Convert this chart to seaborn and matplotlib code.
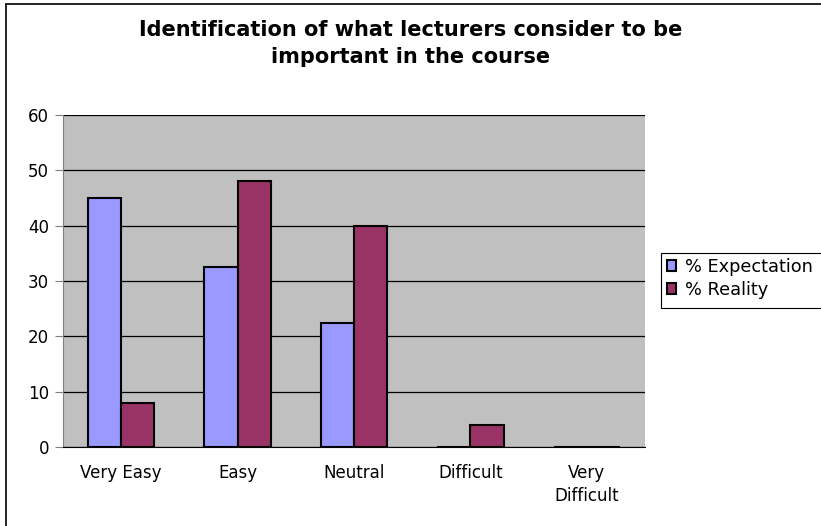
import pandas as pd
import numpy as np
import matplotlib
matplotlib.use('Agg')
import matplotlib.pyplot as plt
import seaborn as sns
from matplotlib.lines import Line2D
from matplotlib.patches import Rectangle

categories = ['Very Easy', 'Easy', 'Neutral', 'Difficult', 'Very\nDifficult']
expectation = [45, 32.5, 22.5, 0, 0]
reality = [8, 48, 40, 4, 0]
series = ['% Expectation', '% Reality']
colors = ['#9999FF', '#993366']

df = pd.DataFrame({
    'category': categories * 2,
    'value': expectation + reality,
    'series': [series[0]] * 5 + [series[1]] * 5,
})

sns.set_style('white')
plt.rcParams['font.family'] = ['DejaVu Sans']
plt.rcParams['text.color'] = 'black'
plt.rcParams['xtick.color'] = 'black'
plt.rcParams['ytick.color'] = 'black'

fig = plt.figure(figsize=(8.21, 5.26), dpi=100)
ax = fig.add_axes([63 / 821, 1 - 447 / 526, 582 / 821, 332 / 526])
ax.set_facecolor('#C0C0C0')

sns.barplot(data=df, x='category', y='value', hue='series', palette=colors,
            saturation=1, width=0.57, edgecolor='black', linewidth=1.5,
            ax=ax, legend=True)

ax.set_ylim(0, 60)
ax.set_xlim(-0.5, 4.5)
ax.set_yticks(range(0, 61, 10))
ax.yaxis.grid(True, color='black', linewidth=0.9)
ax.set_axisbelow(True)
ax.set_xlabel('')
ax.set_ylabel('')
for s in ['top', 'right']:
    ax.spines[s].set_visible(False)
ax.spines['left'].set_color('#808080')
ax.spines['bottom'].set_color('black')

ax.set_xticks(np.arange(-0.5, 5, 1), minor=True)
ax.tick_params(axis='x', which='major', length=0, labelsize=12, pad=12)
ax.tick_params(axis='x', which='minor', length=6, direction='out', color='black')
ax.tick_params(axis='y', length=6, direction='out', labelsize=12, color='#808080',
               left=True, pad=4)
for lab in ax.get_xticklabels():
    lab.set_linespacing(1.4)

fig.text(0.5, 1 - 20 / 526, 'Identification of what lecturers consider to be\nimportant in the course',
         ha='center', va='top', fontsize=15, fontweight='bold', linespacing=1.45)

leg = ax.legend(loc='upper left', bbox_to_anchor=(663 / 821, 1 - 254 / 526),
                bbox_transform=fig.transFigure, frameon=False, fontsize=12.8,
                handlelength=0.55, handleheight=0.55, handletextpad=0.5,
                borderpad=0.2, labelspacing=0.28, borderaxespad=0)
for h in leg.legend_handles:
    h.set_edgecolor('black')
    h.set_linewidth(1.5)
# legend box runs past the right edge of the image
fig.add_artist(Rectangle((661 / 821, 1 - 308 / 526), 0.25, 55 / 526,
                         transform=fig.transFigure, fill=False,
                         edgecolor='black', linewidth=0.8))

# chart frame (only top and left edges fall inside the image)
fig.add_artist(Line2D([6 / 821, 6 / 821], [0, 1 - 4 / 526], transform=fig.transFigure,
                      color='black', linewidth=1.2))
fig.add_artist(Line2D([6 / 821, 1], [1 - 4 / 526, 1 - 4 / 526], transform=fig.transFigure,
                      color='black', linewidth=1.2))

plt.savefig('out.png', dpi=100)
